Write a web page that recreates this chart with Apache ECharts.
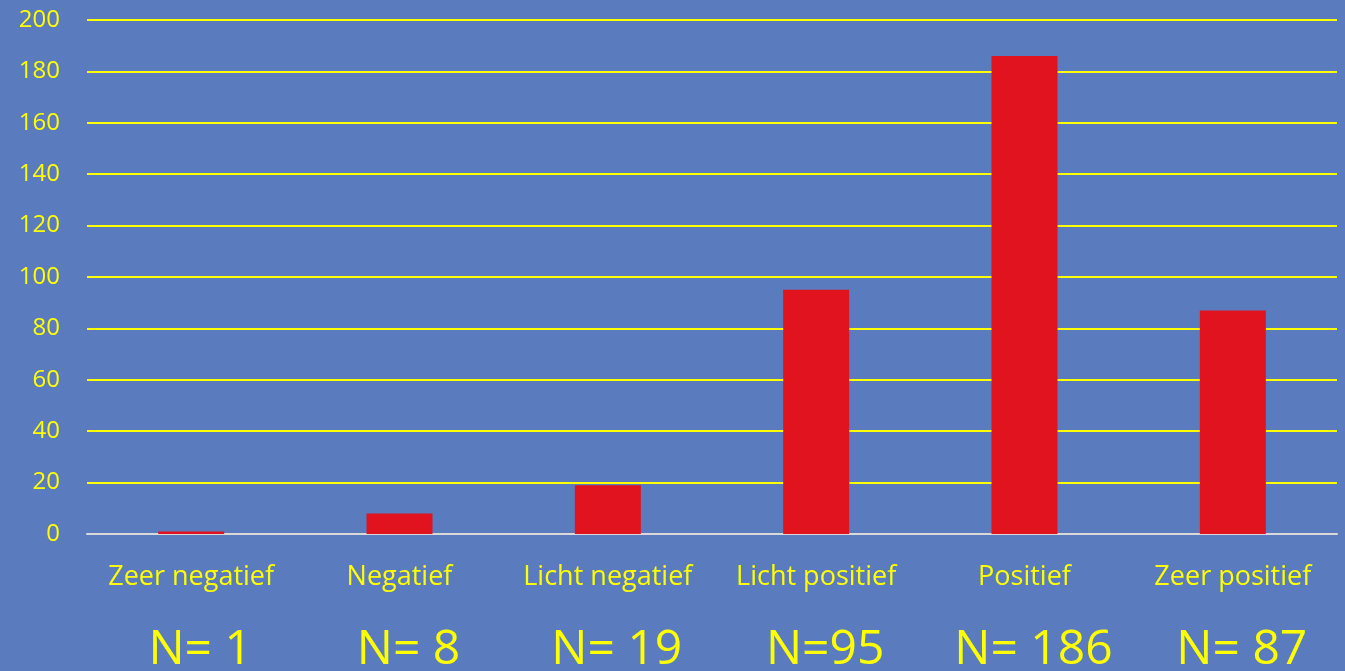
<!DOCTYPE html>
<html>
<head>
<meta charset="utf-8">
<script src="https://cdn.jsdelivr.net/npm/echarts@6/dist/echarts.min.js"></script>
<style>
html,body{margin:0;padding:0;background:#5a7bbe;}
#chart{width:1345px;height:671px;}
</style>
</head>
<body>
<div id="chart"></div>
<script>
const categories = ['Zeer negatief', 'Negatief', 'Licht negatief', 'Licht positief', 'Positief', 'Zeer positief'];
const counts = [1, 8, 19, 95, 186, 87];
const nLabels = ['N= 1', 'N= 8', 'N= 19', 'N=95', 'N= 186', 'N= 87'];

const chart = echarts.init(document.getElementById('chart'));
chart.setOption({
  backgroundColor: '#5a7bbe',
  animation: false,
  grid: { left: 87, right: 8, top: 20, bottom: 137, containLabel: false, outerBoundsMode: 'none' },
  xAxis: [{
    type: 'category',
    data: categories,
    axisLine: { show: true, lineStyle: { color: '#d9d9d9', width: 2 } },
    axisTick: { show: false },
    axisLabel: { interval: 0, color: '#ffff00', fontSize: 27, fontFamily: 'Open Sans', margin: 30 }
  }, {
    type: 'category',
    position: 'bottom',
    data: nLabels,
    axisLine: { show: false },
    axisTick: { show: false },
    axisLabel: { interval: 0, color: '#ffff00', fontSize: 48, fontFamily: 'Open Sans', margin: 92, padding: [0, 0, 0, 18] }
  }],
  yAxis: {
    type: 'value',
    min: 0, max: 200, interval: 20,
    axisLine: { show: false },
    axisTick: { show: false },
    splitLine: { lineStyle: { color: '#ffff00', width: 2 } },
    axisLabel: { color: '#ffff00', fontSize: 24, fontFamily: 'Open Sans', margin: 27 }
  },
  series: [{
    type: 'bar',
    data: counts,
    barWidth: 66,
    itemStyle: { color: '#e0131f' }
  }]
});
</script>
</body>
</html>
